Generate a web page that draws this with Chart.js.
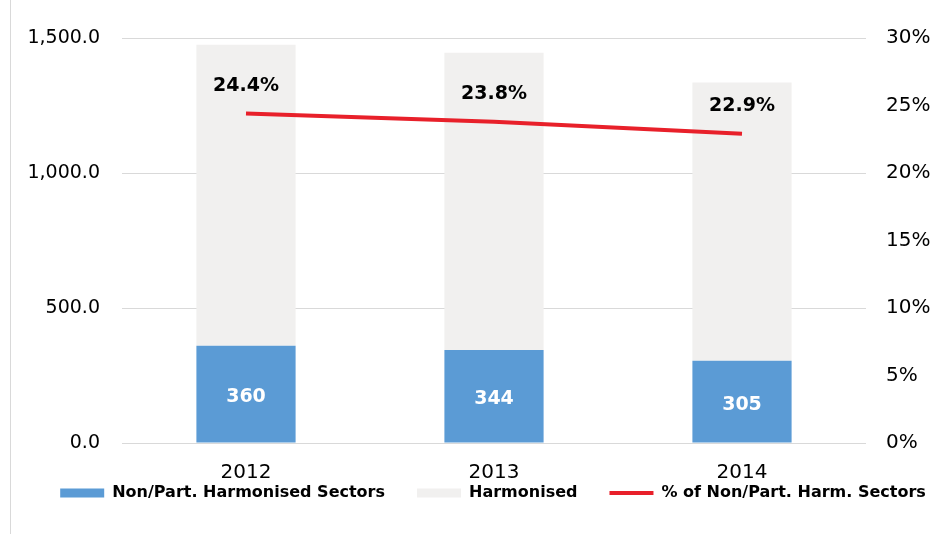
<!DOCTYPE html>
<html>
<head>
<meta charset="utf-8">
<script src="https://cdn.jsdelivr.net/npm/chart.js@4"></script>
<style>
  html, body { margin: 0; padding: 0; background: #fff; }
  #wrap { position: relative; width: 934px; height: 534px; }
  #frame { position: absolute; left: 10px; top: 0; width: 0; height: 534px; border-left: 1px solid #d9d9d9; }
</style>
</head>
<body>
<div id="wrap">
  <div id="frame"></div>
  <canvas id="chart" width="934" height="534"></canvas>
</div>
<script>
// data
const years = ['2012', '2013', '2014'];
const nonHarmonised = [360, 344, 305];
const harmonised = [1115, 1101, 1030];
const sharePct = [24.4, 23.8, 22.9];
const leftTicks = [0, 500, 1000, 1500];
const rightTicks = [0, 5, 10, 15, 20, 25, 30];

// draws the value labels on bars and above the line
const valueLabels = {
  id: 'valueLabels',
  afterDatasetsDraw(chart) {
    const ctx = chart.ctx;
    ctx.save();
    ctx.textAlign = 'center';
    ctx.textBaseline = 'middle';

    const barMeta = chart.getDatasetMeta(0);
    ctx.fillStyle = '#ffffff';
    ctx.font = 'bold 19px "DejaVu Sans"';
    barMeta.data.forEach((bar, i) => {
      const mid = (bar.y + bar.base) / 2;
      ctx.fillText(String(nonHarmonised[i]), bar.x, mid + 3);
    });

    const lineMeta = chart.getDatasetMeta(2);
    ctx.fillStyle = '#000000';
    lineMeta.data.forEach((pt, i) => {
      ctx.fillText(sharePct[i].toFixed(1) + '%', pt.x, pt.y - 28);
    });
    ctx.restore();
  }
};

// legend sits closer to the axis labels than chart.js would put it
const moveLegend = {
  id: 'moveLegend',
  afterLayout(chart) {
    const lg = chart.legend;
    lg.top -= 34; lg.bottom -= 34;
    lg.left += 26; lg.right += 26;
  }
};

const ctx = document.getElementById('chart').getContext('2d');

new Chart(ctx, {
  type: 'bar',
  data: {
    labels: years,
    datasets: [
      {
        label: 'Non/Part. Harmonised Sectors',
        data: nonHarmonised,
        backgroundColor: '#5b9bd5',
        pointStyle: 'rect',
        yAxisID: 'y',
        stack: 's',
        barPercentage: 0.4,
        categoryPercentage: 1
      },
      {
        label: 'Harmonised',
        data: harmonised,
        backgroundColor: '#f1f0ef',
        pointStyle: 'rect',
        yAxisID: 'y',
        stack: 's',
        barPercentage: 0.4,
        categoryPercentage: 1
      },
      {
        type: 'line',
        label: '% of Non/Part. Harm. Sectors',
        data: sharePct,
        borderColor: '#e8202a',
        backgroundColor: '#e8202a',
        borderWidth: 4,
        pointRadius: 0,
        pointStyle: 'line',
        yAxisID: 'y1',
        order: -1
      }
    ]
  },
  options: {
    responsive: false,
    animation: false,
    layout: { padding: { top: 38, bottom: 0 } },
    plugins: {
      tooltip: { enabled: false },
      legend: {
        position: 'bottom',
        maxHeight: 47,
        labels: {
          usePointStyle: true,
          pointStyleWidth: 44,
          boxWidth: 44,
          boxHeight: 9,
          padding: 32,
          color: '#000',
          font: { family: 'DejaVu Sans', size: 16, weight: 'bold' },
          sort: (a, b) => a.datasetIndex - b.datasetIndex
        }
      }
    },
    scales: {
      x: {
        stacked: true,
        grid: { display: false },
        border: { display: false },
        ticks: { color: '#000', font: { family: 'DejaVu Sans', size: 20 }, padding: 10 },
        afterFit: (s) => { s.height = 44; }
      },
      y: {
        stacked: true,
        position: 'left',
        min: 0,
        max: 1500,
        afterBuildTicks: (s) => { s.ticks = leftTicks.map(v => ({ value: v })); },
        ticks: {
          color: '#000',
          font: { family: 'DejaVu Sans', size: 19 },
          padding: 22,
          callback: (v) => v.toLocaleString('en-US', { minimumFractionDigits: 1, maximumFractionDigits: 1 })
        },
        grid: { color: '#d9d9d9', drawTicks: false },
        border: { display: false },
        afterFit: (s) => { s.width = 122; }
      },
      y1: {
        position: 'right',
        min: 0,
        max: 30,
        afterBuildTicks: (s) => { s.ticks = rightTicks.map(v => ({ value: v })); },
        ticks: {
          color: '#000',
          font: { family: 'DejaVu Sans', size: 20 },
          padding: 20,
          callback: (v) => v + '%'
        },
        grid: { display: false, drawTicks: false },
        border: { display: false },
        afterFit: (s) => { s.width = 68; }
      }
    }
  },
  plugins: [valueLabels, moveLegend]
});
</script>
</body>
</html>
